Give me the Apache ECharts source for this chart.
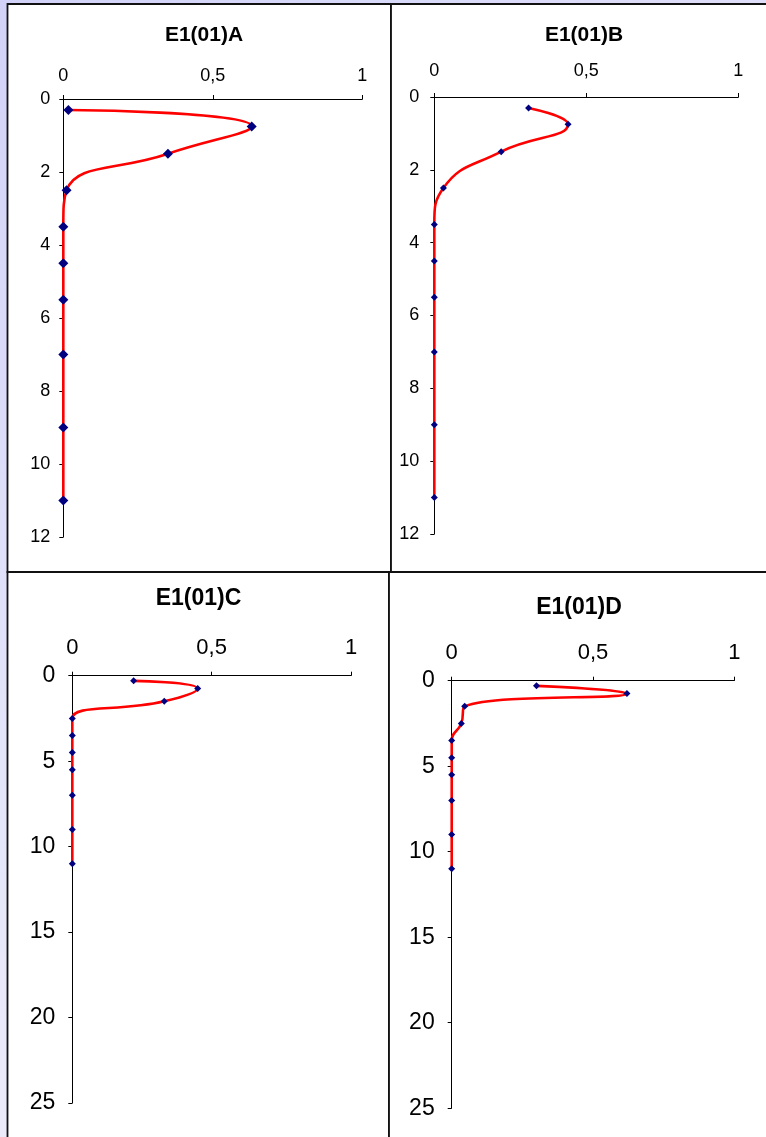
<!DOCTYPE html>
<html>
<head>
<meta charset="utf-8">
<title>E1(01) depth profiles</title>
<script src="https://cdn.jsdelivr.net/npm/echarts@6/dist/echarts.min.js"></script>
<style>
  html, body { margin: 0; padding: 0; background: #ffffff; }
  #chart { width: 766px; height: 1137px; }
</style>
</head>
<body>
<div id="chart"></div>
<script>
// Sampling depths (mid-points of each layer)
const depths = [0.3, 0.75, 1.5, 2.5, 3.5, 4.5, 5.5, 7, 9, 11];

// Measured values per profile, one per depth
const valuesA = [0.017, 0.63, 0.35, 0.011, 0, 0, 0, 0, 0, 0];
const valuesB = [0.31, 0.44, 0.22, 0.03, 0, 0, 0, 0, 0, 0];
const valuesC = [0.22, 0.45, 0.33, 0, 0, 0, 0, 0, 0, 0];
const valuesD = [0.30, 0.62, 0.046, 0.034, 0, 0, 0, 0, 0, 0];

const panelTitles = ['E1(01)A', 'E1(01)B', 'E1(01)C', 'E1(01)D'];

// Axis ranges and tick steps
const xTickValues = [0, 0.5, 1];
const depthMaxTop = 12, depthStepTop = 2;
const depthMaxBottom = 25, depthStepBottom = 5;

const commaDecimal = v => String(v).replace('.', ',');

const chart = echarts.init(document.getElementById('chart'), null, { renderer: 'canvas' });

const FONT = 'Arial, "Liberation Sans", sans-serif';

const panels = [
  { vals: valuesA, grid: { left: 63.3, top: 99, width: 299, height: 438 }, max: depthMaxTop, step: depthStepTop,
    xFont: 18, yFont: 18, xMargin: 14, yMargin: 13, yPad: [2, 0, 0, 0], sym: 10, title: { x: 204, y: 35, size: 21 } },
  { vals: valuesB, grid: { left: 434.3, top: 97, width: 304, height: 437 }, max: depthMaxTop, step: depthStepTop,
    xFont: 18, yFont: 18, xMargin: 17, yMargin: 15, yPad: [2, 0, 0, 0], sym: 7, title: { x: 584, y: 35, size: 21 } },
  { vals: valuesC, grid: { left: 72.3, top: 675.7, width: 278.7, height: 427.3 }, max: depthMaxBottom, step: depthStepBottom,
    xFont: 22, yFont: 23, xMargin: 17, yMargin: 17, yPad: [6, 0, 0, 0], sym: 7, title: { x: 198.5, y: 599, size: 23 } },
  { vals: valuesD, grid: { left: 451.7, top: 680.7, width: 282.6, height: 427.5 }, max: depthMaxBottom, step: depthStepBottom,
    xFont: 22, yFont: 23, xMargin: 17, yMargin: 17, yPad: [6, 0, 0, 0], sym: 7, title: { x: 579, y: 608, size: 23 } }
];

const axisLine = { show: true, lineStyle: { color: '#000', width: 1 } };
const axisTick = { show: true, inside: false, length: 4, lineStyle: { color: '#000', width: 1 } };

const option = {
  animation: false,
  backgroundColor: '#ffffff',
  graphic: {
    elements: [
      // page backdrop
      { type: 'rect', z: -10, silent: true, shape: { x: 0, y: 0, width: 766, height: 1137 },
        style: { fill: { type: 'linear', x: 0, y: 0, x2: 1, y2: 1,
          colorStops: [{ offset: 0, color: '#d2d2f8' }, { offset: 0.5, color: '#e6e6fa' }, { offset: 1, color: '#f2f2fc' }] } } },
      // four framed panels
      { type: 'rect', z: -5, silent: true, shape: { x: 7.5, y: 4, width: 383.5, height: 568 },
        style: { fill: '#fff', stroke: '#111', lineWidth: 1.8 } },
      { type: 'rect', z: -5, silent: true, shape: { x: 391, y: 4, width: 385, height: 568 },
        style: { fill: '#fff', stroke: '#111', lineWidth: 1.8 } },
      { type: 'rect', z: -5, silent: true, shape: { x: 7.5, y: 572, width: 381.5, height: 575 },
        style: { fill: '#fff', stroke: '#111', lineWidth: 1.8 } },
      { type: 'rect', z: -5, silent: true, shape: { x: 389, y: 572, width: 387, height: 575 },
        style: { fill: '#fff', stroke: '#111', lineWidth: 1.8 } }
    ]
  },
  title: panels.map((p, i) => ({
    text: panelTitles[i],
    left: p.title.x,
    top: p.title.y,
    padding: 0,
    textAlign: 'center',
    textVerticalAlign: 'middle',
    textStyle: { fontFamily: FONT, fontWeight: 'bold', fontSize: p.title.size, color: '#000' }
  })),
  grid: panels.map(p => Object.assign({ containLabel: false }, p.grid)),
  xAxis: panels.map((p, i) => ({
    type: 'value',
    gridIndex: i,
    position: 'top',
    min: xTickValues[0],
    max: xTickValues[xTickValues.length - 1],
    interval: xTickValues[1] - xTickValues[0],
    axisLine, axisTick,
    splitLine: { show: false },
    axisLabel: { fontFamily: FONT, fontSize: p.xFont, color: '#000', margin: p.xMargin, formatter: commaDecimal }
  })),
  yAxis: panels.map((p, i) => ({
    type: 'value',
    gridIndex: i,
    inverse: true,
    min: 0,
    max: p.max,
    interval: p.step,
    axisLine, axisTick,
    splitLine: { show: false },
    axisLabel: { fontFamily: FONT, fontSize: p.yFont, color: '#000', margin: p.yMargin, padding: p.yPad }
  })),
  series: panels.map((p, i) => ({
    type: 'line',
    xAxisIndex: i,
    yAxisIndex: i,
    data: p.vals.map((v, k) => [v, depths[k]]),
    smooth: 0.5,
    symbol: 'diamond',
    symbolSize: p.sym,
    showAllSymbol: true,
    lineStyle: { color: '#ff0000', width: 2.6 },
    itemStyle: { color: '#000080' },
    z: 3
  }))
};

chart.setOption(option);
</script>
</body>
</html>
